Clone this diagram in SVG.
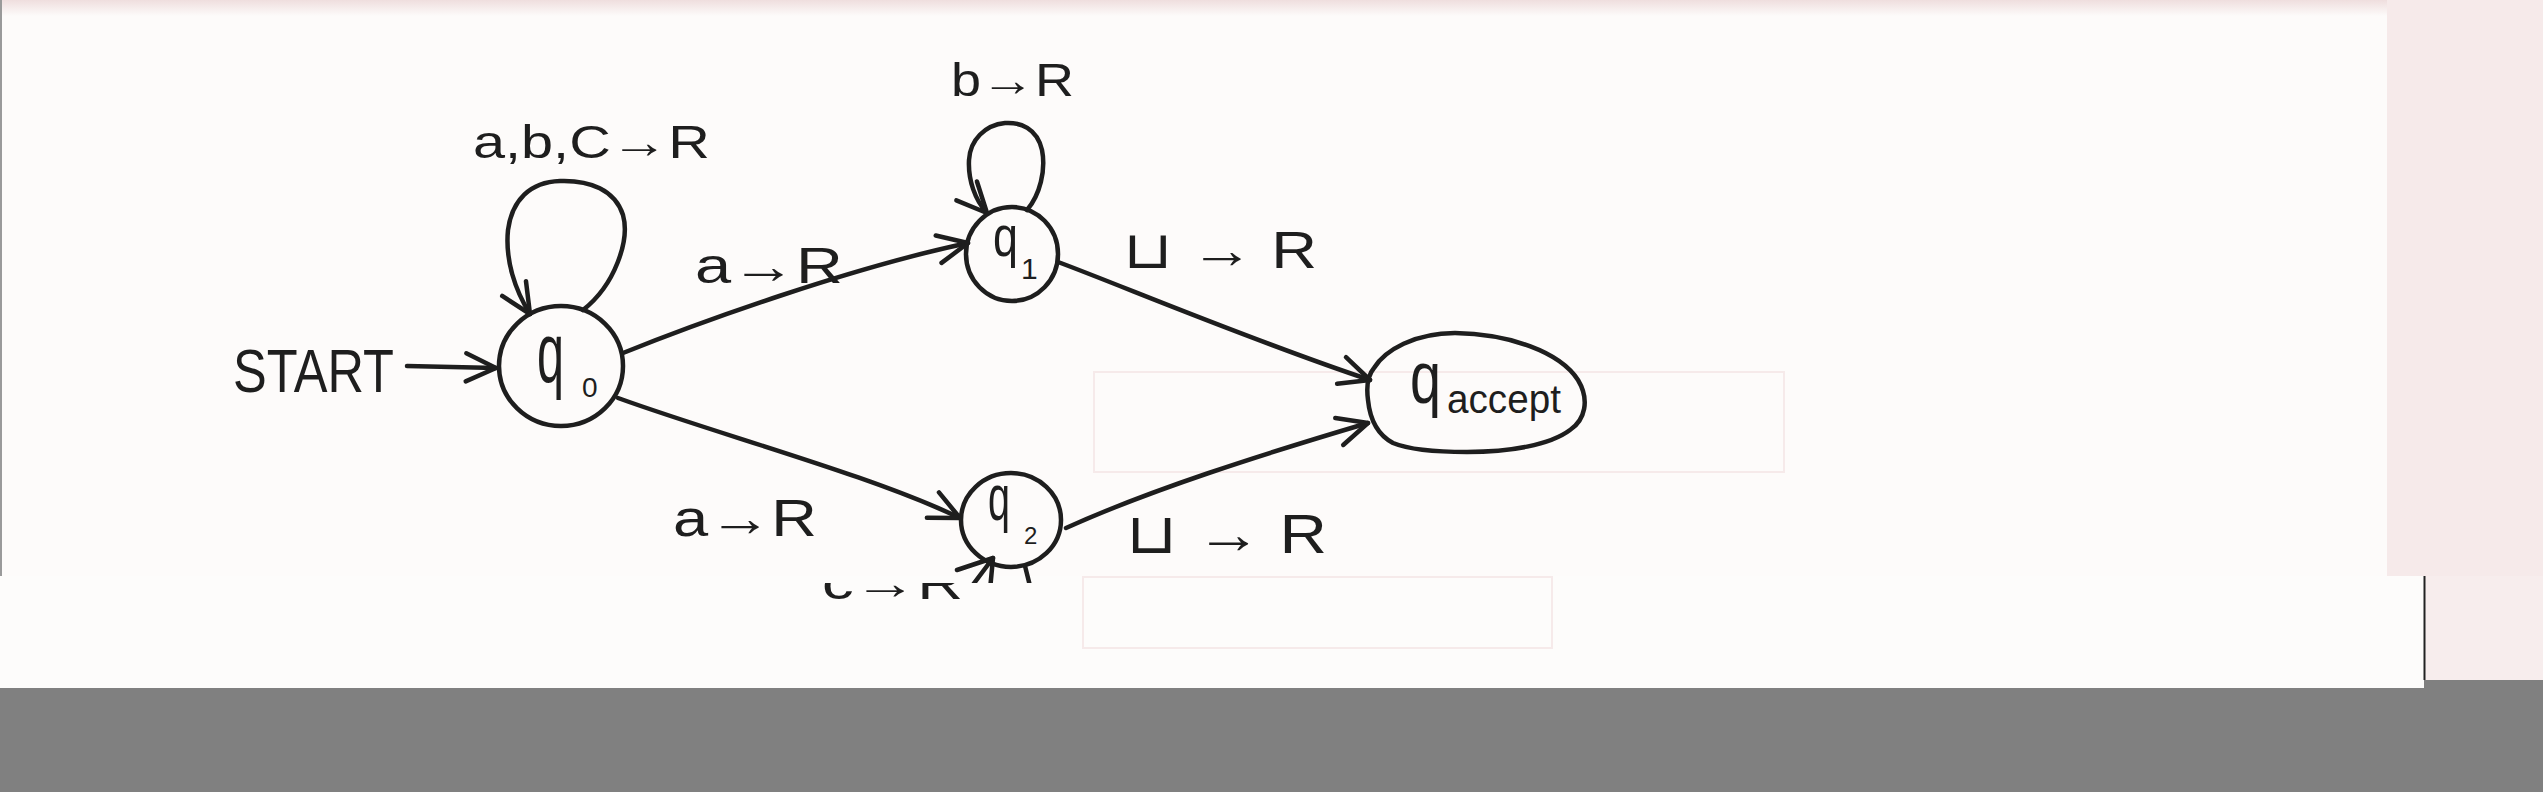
<svg xmlns="http://www.w3.org/2000/svg" width="2543" height="792" viewBox="0 0 2543 792">
<style>
.hw{font-family:"Liberation Sans","DejaVu Sans",sans-serif;fill:#1e1e1e}
.node{fill:none;stroke:#1e1e1e;stroke-width:4.5}
.edge{fill:none;stroke:#1e1e1e;stroke-width:4.5;stroke-linecap:round;stroke-linejoin:round}
.ghost{fill:none;stroke:#f6eaea;stroke-width:2}
</style>
<defs>
<marker id="arr" markerUnits="userSpaceOnUse" viewBox="-36 -20 40 40" markerWidth="40" markerHeight="40" refX="0" refY="0" orient="auto">
<path d="M-30,-14 L0,0 L-30,14" fill="none" stroke="#1e1e1e" stroke-width="4.5" stroke-linecap="round" stroke-linejoin="round"/>
</marker>
<linearGradient id="topfade" x1="0" y1="0" x2="0" y2="1">
<stop offset="0" stop-color="#efdede"/>
<stop offset="1" stop-color="#fdfbfa"/>
</linearGradient>
<clipPath id="upper"><rect x="0" y="0" width="2387" height="583"/></clipPath>
<clipPath id="lower"><rect x="0" y="583" width="2424" height="105"/></clipPath>
</defs>

<g id="background">
<rect width="2543" height="792" fill="#808080"/>
<rect x="0" y="0" width="2387" height="578" fill="#fdfbfa"/>
<rect x="0" y="0" width="2387" height="16" fill="url(#topfade)"/>
<rect x="2387" y="0" width="156" height="578" fill="#f6eaea"/>
<rect x="0" y="576" width="2424" height="112" fill="#fdfcfb"/>
<rect x="2425" y="576" width="118" height="104" fill="#f7eded"/>
<line x1="2424.5" y1="576" x2="2424.5" y2="680" stroke="#222" stroke-width="2"/>
<rect x="0" y="0" width="2" height="576" fill="#9a9a9a"/>
<rect class="ghost" x="1094" y="372" width="690" height="100"/>
<rect class="ghost" x="1083" y="577" width="469" height="71"/>
</g>

<g id="connectors">
<path class="edge" d="M407,366 L496,368" marker-end="url(#arr)"/>
<path class="edge" d="M583,310 C615,285 630,240 623,215 C615,190 590,180 560,181 C530,182 512,200 508,230 C505,260 515,290 530,314" marker-end="url(#arr)"/>
<path class="edge" d="M623,353 C700,322 850,268 968,243" marker-end="url(#arr)"/>
<path class="edge" d="M618,398 C720,435 870,475 960,518" marker-end="url(#arr)"/>
<path class="edge" d="M1027,210 C1040,195 1046,170 1042,150 C1037,128 1020,122 1005,123 C985,125 970,140 969,160 C968,180 975,200 987,213" marker-end="url(#arr)"/>
<path class="edge" d="M1058,262 C1120,285 1250,340 1370,380" marker-end="url(#arr)"/>
<path class="edge" d="M1066,528 C1150,490 1260,455 1368,423" marker-end="url(#arr)"/>
<g clip-path="url(#upper)">
<path class="edge" d="M1025,566 L1031,590"/>
<path class="edge" d="M990,590 L993,558"/>
<path class="edge" d="M957,570 L993,558 L972,586"/>
</g>
</g>

<g id="q0">
<ellipse class="node" cx="561" cy="366" rx="62" ry="60"/>
<text class="hw" y="382"><tspan x="537" font-size="85" textLength="27" lengthAdjust="spacingAndGlyphs">q</tspan><tspan x="582" y="397" font-size="28">0</tspan></text>
</g>
<g id="q1">
<ellipse class="node" cx="1012" cy="254" rx="46" ry="47"/>
<text class="hw" y="256"><tspan x="993" font-size="58" textLength="25" lengthAdjust="spacingAndGlyphs">q</tspan><tspan x="1021" y="279" font-size="30">1</tspan></text>
</g>
<g id="q2">
<ellipse class="node" cx="1011" cy="520" rx="50" ry="47"/>
<text class="hw" y="520"><tspan x="988" font-size="64" textLength="22" lengthAdjust="spacingAndGlyphs">q</tspan><tspan x="1024" y="544" font-size="24">2</tspan></text>
</g>
<g id="qaccept">
<path class="node" d="M1368,400 C1366,385 1368,375 1374,368 C1385,350 1415,333 1455,333 C1510,334 1560,352 1578,380 C1590,400 1585,420 1570,430 C1550,445 1510,452 1467,452 C1440,452 1410,450 1393,443 C1378,435 1370,420 1368,400 Z"/>
<text class="hw" y="403"><tspan x="1410" font-size="74" textLength="31" lengthAdjust="spacingAndGlyphs">q</tspan><tspan x="1447" y="413" font-size="40" textLength="114" lengthAdjust="spacingAndGlyphs">accept</tspan></text>
</g>

<g id="labels">
<text class="hw" x="233" y="392" font-size="62" textLength="161" lengthAdjust="spacingAndGlyphs">START</text>
<text class="hw" x="473" y="158" font-size="46" textLength="237" lengthAdjust="spacingAndGlyphs">a,b,C→R</text>
<text class="hw" x="695" y="283" font-size="50" textLength="148" lengthAdjust="spacingAndGlyphs">a→R</text>
<text class="hw" x="951" y="96" font-size="46" textLength="123" lengthAdjust="spacingAndGlyphs">b→R</text>
<text class="hw" x="1123" y="268" font-size="52" textLength="194" lengthAdjust="spacingAndGlyphs">⊔ → R</text>
<text class="hw" x="673" y="536" font-size="52" textLength="144" lengthAdjust="spacingAndGlyphs">a→R</text>
<text class="hw" x="1126" y="553" font-size="56" textLength="201" lengthAdjust="spacingAndGlyphs">⊔ → R</text>
<text class="hw" x="822" y="599" font-size="46" textLength="141" lengthAdjust="spacingAndGlyphs" clip-path="url(#lower)">c→R</text>
</g>
</svg>
